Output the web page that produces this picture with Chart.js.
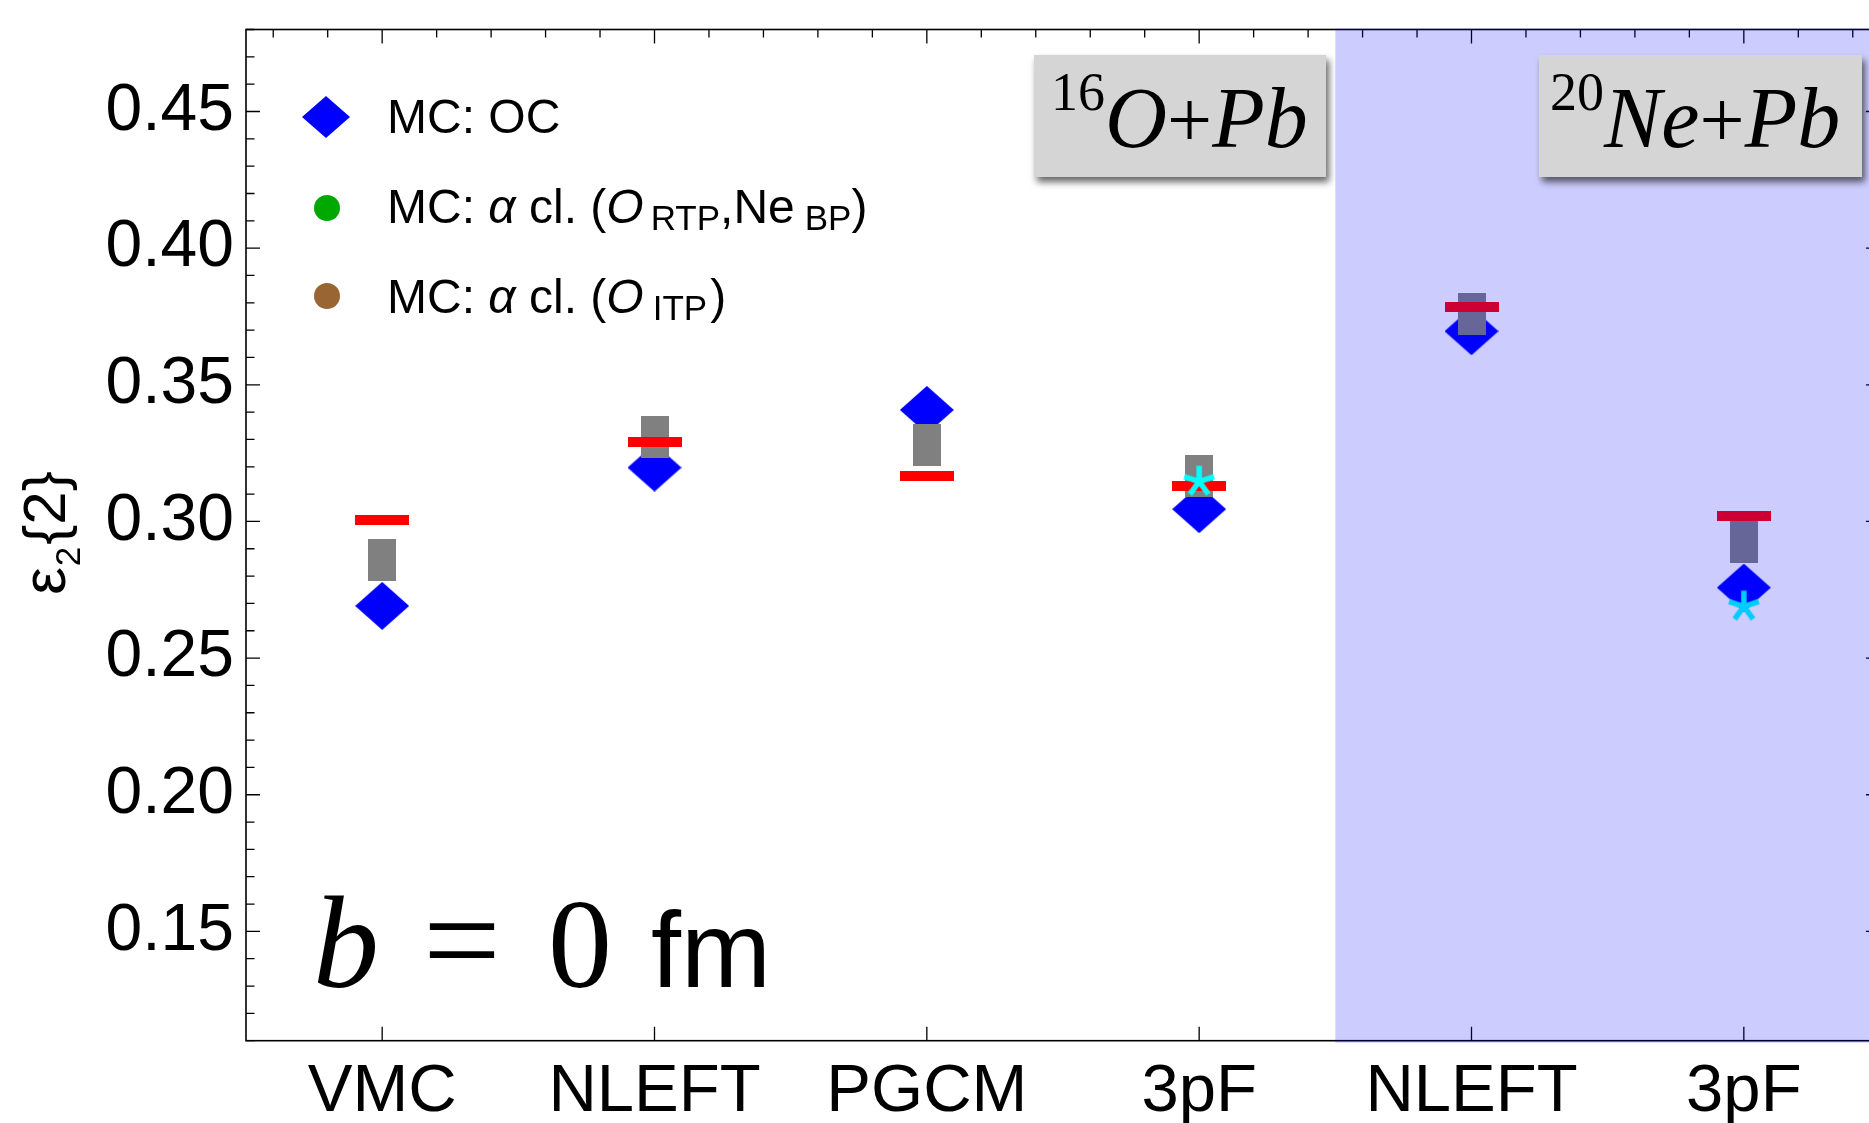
<!DOCTYPE html>
<html>
<head>
<meta charset="utf-8">
<script src="https://cdn.jsdelivr.net/npm/chart.js@4.4.1/dist/chart.umd.min.js"></script>
<style>
  html, body { margin: 0; padding: 0; overflow: hidden; background: #fff; }
  #chart { display: block; }
</style>
</head>
<body>
<canvas id="chart" width="1890" height="1123"></canvas>
<script>
// eccentricity eps2{2} at b = 0 fm, per nuclear structure model
const categories = ['VMC', 'NLEFT', 'PGCM', '3pF', 'NLEFT', '3pF'];
const ocValues   = [0.2691, 0.3197, 0.3408, 0.3045, 0.3696, 0.2758];
const grayValues = [0.2860, 0.3310, 0.3281, 0.3167, 0.3760, 0.2926];
const redValues  = [0.3005, 0.3292, 0.3167, 0.3131, 0.3785, 0.3021];
const starValues = [null, null, null, 0.3146, null, 0.2689];
const yTickValues = [0.15, 0.20, 0.25, 0.30, 0.35, 0.40, 0.45];
const yRange = [0.11, 0.48];
const neStart = 4.5; // columns to the right of this are Ne+Pb

const SANS = '"Liberation Sans", Arial, sans-serif';
const SERIF = '"Liberation Serif", "Times New Roman", serif';

function makeMarker(w, h, paint) {
  const c = document.createElement('canvas');
  c.width = w;
  c.height = h;
  paint(c.getContext('2d'), w, h);
  return c;
}

function diamondPath(g, cx, cy, w, h) {
  g.beginPath();
  g.moveTo(cx, cy - h / 2);
  g.lineTo(cx + w / 2, cy);
  g.lineTo(cx, cy + h / 2);
  g.lineTo(cx - w / 2, cy);
  g.closePath();
}

const diamond = makeMarker(54, 48, (g, w, h) => {
  g.fillStyle = '#0000ff';
  diamondPath(g, w / 2, h / 2, w, h);
  g.fill();
});
const grayBlock = makeMarker(28, 42, (g, w, h) => {
  g.fillStyle = '#808080';
  g.fillRect(0, 0, w, h);
});
const redDash = makeMarker(54, 10, (g, w, h) => {
  g.fillStyle = '#ff0000';
  g.fillRect(0, 0, w, h);
});
const asterisk = makeMarker(36, 36, (g, w, h) => {
  g.strokeStyle = '#00ffff';
  g.lineWidth = 5.5;
  g.beginPath();
  for (let k = 0; k < 5; k++) {
    const t = -Math.PI / 2 + k * 2 * Math.PI / 5;
    g.moveTo(w / 2, h / 2);
    g.lineTo(w / 2 + 15.7 * Math.cos(t), h / 2 + 15.7 * Math.sin(t));
  }
  g.stroke();
});

const toPoints = vals => vals
  .map((v, i) => (v == null ? null : { x: i + 1, y: v }))
  .filter(Boolean);

// draw a run of text pieces left to right on one baseline
function drawRich(ctx, x, y, parts) {
  parts.forEach(p => {
    ctx.font = p.f;
    x += p.before || 0;
    ctx.fillText(p.t, x, y + (p.dy || 0));
    x += ctx.measureText(p.t).width + (p.after || 0);
  });
  return x;
}

function drawTag(ctx, box, x, y, parts) {
  ctx.save();
  ctx.shadowColor = 'rgba(0,0,0,0.6)';
  ctx.shadowBlur = 7;
  ctx.shadowOffsetX = 3;
  ctx.shadowOffsetY = 5;
  ctx.fillStyle = '#d5d5d5';
  ctx.fillRect(box[0], box[1], box[2], box[3]);
  ctx.restore();
  ctx.fillStyle = '#000';
  drawRich(ctx, x, y, parts);
}

const framePlugin = {
  id: 'frame',
  beforeDatasetsDraw(chart) {
    const { ctx, chartArea: a, scales: { x, y } } = chart;
    ctx.save();
    ctx.strokeStyle = '#000';
    ctx.lineWidth = 1.3;
    ctx.beginPath();
    // left / right frame: minor every 0.01
    for (let k = 11; k <= 48; k++) {
      const py = y.getPixelForValue(k / 100);
      const len = k % 5 === 0 ? 14 : 8.5;
      ctx.moveTo(a.left, py); ctx.lineTo(a.left + len, py);
      ctx.moveTo(a.right, py); ctx.lineTo(a.right - len, py);
    }
    // top frame: minor every 0.2
    for (let k = 3; k <= 32; k++) {
      const px = x.getPixelForValue(k / 5);
      const len = k % 5 === 0 ? 14 : 8;
      ctx.moveTo(px, a.top); ctx.lineTo(px, a.top + len);
    }
    // bottom frame: one tick per category
    categories.forEach((c, i) => {
      const px = x.getPixelForValue(i + 1);
      ctx.moveTo(px, a.bottom); ctx.lineTo(px, a.bottom - 14);
    });
    ctx.stroke();
    ctx.lineWidth = 1.6;
    ctx.strokeRect(a.left, a.top, a.right - a.left, a.bottom - a.top);
    ctx.restore();
  },
  afterDatasetsDraw(chart) {
    const { ctx, chartArea: a, scales: { x } } = chart;
    ctx.save();

    // Ne+Pb band, laid over the markers
    const x0 = x.getPixelForValue(neStart);
    ctx.fillStyle = 'rgba(0,0,255,0.2)';
    ctx.fillRect(x0, a.top - 1, a.right + 2 - x0, a.bottom + 2 - (a.top - 1));

    ctx.fillStyle = '#000';
    ctx.textBaseline = 'alphabetic';

    // y axis title: eps_2{2}
    ctx.save();
    const title = [
      { t: '\u03b5', f: '62px ' + SANS },
      { t: '2', f: '35px ' + SANS, dy: 15.5, before: 1 },
      { t: '{2}', f: '60px ' + SANS, before: 2 }
    ];
    let len = 0;
    title.forEach(p => { ctx.font = p.f; len += ctx.measureText(p.t).width + (p.before || 0); });
    ctx.translate(64.5, 533 + len / 2);
    ctx.rotate(-Math.PI / 2);
    drawRich(ctx, 0, 0, title);
    ctx.restore();

    // legend
    ctx.fillStyle = '#0000ff';
    diamondPath(ctx, 326, 117, 48, 42);
    ctx.fill();
    ctx.fillStyle = '#00a800';
    ctx.beginPath(); ctx.arc(327, 208, 13, 0, Math.PI * 2); ctx.fill();
    ctx.fillStyle = '#996633';
    ctx.beginPath(); ctx.arc(327, 296, 13, 0, Math.PI * 2); ctx.fill();

    const S = '48px ' + SANS, I = 'italic 48px ' + SANS, SUB = '35px ' + SANS;
    ctx.fillStyle = '#000';
    drawRich(ctx, 387, 133, [{ t: 'MC: OC', f: S }]);
    drawRich(ctx, 387, 223, [
      { t: 'MC: ', f: S }, { t: '\u03b1', f: I }, { t: ' cl. (', f: S },
      { t: 'O', f: I, after: 7 }, { t: 'RTP', f: SUB, dy: 7 }, { t: ',', f: S },
      { t: 'Ne', f: S, after: 10 }, { t: 'BP', f: SUB, dy: 7 }, { t: ')', f: S }
    ]);
    drawRich(ctx, 387, 313, [
      { t: 'MC: ', f: S }, { t: '\u03b1', f: I }, { t: ' cl. (', f: S },
      { t: 'O', f: I, after: 9 }, { t: 'ITP', f: SUB, dy: 7 }, { t: ')', f: S, before: 3 }
    ]);

    // system tags
    const SUP = '54px ' + SERIF, TI = 'italic 86px ' + SERIF, PL = '80px ' + SERIF;
    drawTag(ctx, [1034, 55, 292, 122], 1051, 147, [
      { t: '16', f: SUP, dy: -37 }, { t: 'O', f: TI },
      { t: '+', f: PL }, { t: 'Pb', f: TI }
    ]);
    drawTag(ctx, [1539, 55, 323, 122], 1550, 147, [
      { t: '20', f: SUP, dy: -37 }, { t: 'Ne', f: TI },
      { t: '+', f: PL }, { t: 'Pb', f: TI }
    ]);

    // impact parameter
    ctx.font = 'italic 132px ' + SERIF;
    ctx.fillText('b', 313, 987);
    ctx.textAlign = 'center';
    ctx.font = '138px ' + SERIF;
    ctx.fillText('=', 462, 987);
    ctx.font = '128px ' + SERIF;
    ctx.fillText('0', 580, 987);
    ctx.textAlign = 'left';
    ctx.font = '108px ' + SANS;
    ctx.fillText('fm', 651, 987);

    ctx.restore();
  }
};

Chart.defaults.font.family = SANS;

new Chart(document.getElementById('chart'), {
  type: 'scatter',
  data: {
    datasets: [
      { label: 'MC: OC', data: toPoints(ocValues), pointStyle: diamond,
        pointRadius: 3, pointHoverRadius: 3, order: 4 },
      { label: 'gray', data: toPoints(grayValues), pointStyle: grayBlock,
        pointRadius: 3, pointHoverRadius: 3, order: 3 },
      { label: 'red', data: toPoints(redValues), pointStyle: redDash,
        pointRadius: 3, pointHoverRadius: 3, order: 2 },
      { label: 'star', data: toPoints(starValues), pointStyle: asterisk,
        pointRadius: 3, pointHoverRadius: 3, order: 1 }
    ]
  },
  options: {
    responsive: false,
    animation: false,
    events: [],
    layout: { padding: { top: 29.5, right: 10, left: 0, bottom: 0 } },
    plugins: { legend: { display: false }, tooltip: { enabled: false } },
    scales: {
      x: {
        type: 'linear',
        min: 0.5,
        max: 6.5,
        grid: { display: false, drawTicks: false },
        border: { display: false },
        afterBuildTicks: s => { s.ticks = categories.map((c, i) => ({ value: i + 1 })); },
        afterFit: s => { s.height = 82.3; s.paddingLeft = 0; s.paddingRight = 0; },
        ticks: {
          autoSkip: false, maxRotation: 0, padding: 12, color: '#000',
          font: { size: 67 },
          callback: (v, i) => categories[i]
        }
      },
      y: {
        min: yRange[0],
        max: yRange[1],
        grid: { display: false, drawTicks: false },
        border: { display: false },
        afterBuildTicks: s => { s.ticks = yTickValues.map(v => ({ value: v })); },
        afterFit: s => { s.width = 246; s.paddingTop = 0; s.paddingBottom = 0; },
        ticks: {
          padding: 12, color: '#000',
          font: { size: 66 },
          callback: v => v.toFixed(2)
        }
      }
    }
  },
  plugins: [framePlugin]
});
</script>
</body>
</html>
